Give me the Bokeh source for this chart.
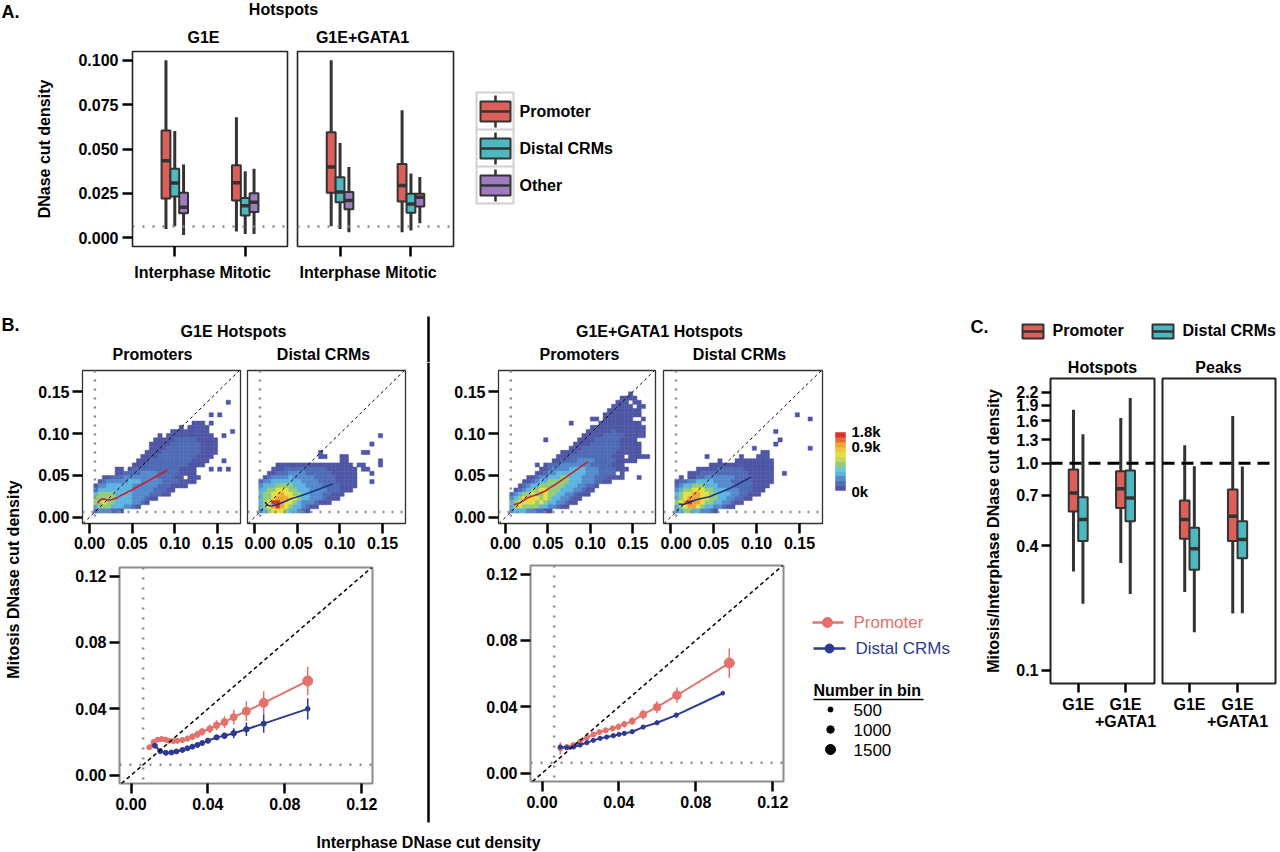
import math
from bokeh.plotting import figure
from bokeh.models import Range1d, FixedTicker, Span, Slope, Spacer, ColumnDataSource, PrintfTickFormatter
from bokeh.layouts import row, column
from bokeh.core.properties import value
from bokeh.embed import file_html
from bokeh.resources import INLINE

FONT = "Liberation Sans"
PAGE_H = 852
DARK = "#333333"
RED_FILL = "#DD5F59"
TEAL_FILL = "#4DB8BE"
PURPLE_FILL = "#9F7BBF"
PT_RED = "#E4716B"
PT_BLUE = "#2E3A92"
LINE_RED = "#C8202A"
LINE_BLUE = "#1D3585"
GRAY_DOT = "#8a8a8a"
HEAT_PAL = ["#4E56A5", "#4E6BB6", "#5489CD", "#5CB5E0", "#93CC78", "#E6E03E", "#F2A332", "#D7322A"]
CB_COLORS = ["#4E56A5", "#4E6BB6", "#5489CD", "#5CB5E0", "#6EC8C8", "#93CC78", "#C6D854", "#E6E03E", "#F2C238", "#F2A332", "#E66A2E", "#D7322A"]

# ---------------- Panel A data ----------------
A_CATS = ["Interphase", "Mitotic"]
A_GROUPS = ["Promoter", "Distal CRMs", "Other"]
A_G1E_PROM = dict(lo=[0.0049, 0.0034], q1=[0.0221, 0.0209], med=[0.0434, 0.0309], q3=[0.0604, 0.0409], hi=[0.1000, 0.0679])
A_G1E_DIST = dict(lo=[0.0064, 0.0021], q1=[0.0232, 0.0125], med=[0.0308, 0.0180], q3=[0.0389, 0.0223], hi=[0.0602, 0.0374])
A_G1E_OTHER = dict(lo=[0.0015, 0.0021], q1=[0.0138, 0.0145], med=[0.0172, 0.0200], q3=[0.0253, 0.0251], hi=[0.0413, 0.0389])
A_GATA_PROM = dict(lo=[0.0064, 0.0030], q1=[0.0253, 0.0204], med=[0.0398, 0.0294], q3=[0.0594, 0.0415], hi=[0.1000, 0.0719])
A_GATA_DIST = dict(lo=[0.0049, 0.0040], q1=[0.0200, 0.0140], med=[0.0257, 0.0190], q3=[0.0340, 0.0247], hi=[0.0534, 0.0362])
A_GATA_OTHER = dict(lo=[0.0030, 0.0081], q1=[0.0160, 0.0175], med=[0.0209, 0.0228], q3=[0.0258, 0.0247], hi=[0.0398, 0.0342])
A_Y_TICKS = [0.0, 0.025, 0.05, 0.075, 0.1]
THRESH = 0.0063

# ---------------- Panel B heatmaps (rows: y-bin index, first x-bin index, levels) ----------------
BIN = 0.005
HM_G1E_PROM = [
    (27, 32, "1"),
    (24, 28, "1.1"),
    (22, 24, "111.1"),
    (21, 21, "1.11111"),
    (20, 19, "111111111.....1"),
    (19, 16, "1.11111111111..1"),
    (18, 15, "111112222211111"),
    (17, 14, "1111122222221111"),
    (16, 14, "1111222222221111"),
    (15, 13, "11112222222221111"),
    (14, 12, "11112222222221111"),
    (13, 11, "11122222222221111...1"),
    (12, 10, "11122222222221111"),
    (11, 6, "11.1222222222221111...1.1.1"),
    (10, 6, "1122223333222221111"),
    (9, 3, "1122233333333222211.111"),
    (8, 2, "12333334443333322221111"),
    (7, 1, "1334444443333332221111"),
    (6, 1, "2444444443333322211"),
    (5, 1, "455554444333322211"),
    (4, 1, "555554444333211"),
    (3, 1, "5565544443321"),
    (2, 1, "45554443321"),
    (1, 1, "2333221"),
]
HM_G1E_DIST = [
    (19, 29, "1"),
    (17, 27, "1"),
    (15, 15, "1.........11"),
    (14, 15, "11...11"),
    (13, 20, "11.......1"),
    (12, 5, "111111111111111111.11...1"),
    (11, 4, "11122222222221111111.11"),
    (10, 3, "112223333222222111111...1"),
    (9, 2, "1233334333332222211111"),
    (8, 1, "23344444443333222211111...1"),
    (7, 1, "34445555444333322221111"),
    (6, 1, "4455666554443333222111"),
    (5, 1, "45566766554433322111"),
    (4, 1, "4556777665443332111"),
    (3, 1, "45688766543332111"),
    (2, 1, "45678765443211"),
    (1, 1, "345666544321"),
]
HM_GATA_PROM = [
    (29, 29, "1"),
    (28, 27, "1111"),
    (27, 26, "111.11"),
    (26, 25, "11111.11"),
    (25, 24, "11111111"),
    (24, 23, "111111111"),
    (23, 20, "11.1111111..1"),
    (22, 15, "1......1111111111"),
    (21, 20, "1111111111111"),
    (20, 19, "11111121111111"),
    (19, 18, "111112222211111"),
    (18, 9, "1.......11112222221111"),
    (17, 16, "1111222222211111"),
    (16, 15, "11122222222211111"),
    (15, 13, "1111222222222111111"),
    (14, 12, "1112222222222111.11111"),
    (13, 11, "11222233332222211111"),
    (12, 7, "1.1222333333322222111"),
    (11, 8, "112333344443332222111"),
    (10, 7, "1123344444443332222.1"),
    (9, 5, "11233444554443332221111...1"),
    (8, 4, "112344555554443332211"),
    (7, 3, "1234455555544433221"),
    (6, 2, "1234556655544433211"),
    (5, 1, "2345565565544332111"),
    (4, 1, "34566665654433211"),
    (3, 1, "4566665654433211"),
    (2, 1, "45655554433211"),
    (1, 1, "3444332211"),
]
HM_GATA_DIST = [
    (24, 29, "1"),
    (23, 32, "1"),
    (20, 24, "1"),
    (18, 25, "1"),
    (17, 24, "1"),
    (16, 19, "1............1"),
    (15, 21, "11"),
    (14, 8, "1.......1...111"),
    (13, 11, "1...111111111"),
    (12, 9, "111111111111111"),
    (11, 6, "111112222221111111"),
    (10, 4, "11122222222222111111..1"),
    (9, 2, "1.11223333333222211111"),
    (8, 1, "12233444433332222211111"),
    (7, 1, "2344555444333322221111"),
    (6, 1, "345566655444333222111"),
    (5, 1, "45667766554443322111"),
    (4, 1, "456777665544332211"),
    (3, 1, "5678776554433211"),
    (2, 1, "45677654433211"),
    (1, 1, "3455443321"),
]
HM_TICKS = [0.0, 0.05, 0.10, 0.15]

# ---------------- Panel B binned means ----------------
G1E_PROM_X = [0.0095, 0.0117, 0.0138, 0.0159, 0.0180, 0.0198, 0.0219, 0.0240, 0.0267, 0.0293, 0.0319, 0.0345, 0.0370, 0.0410, 0.0445, 0.0486, 0.0534, 0.0600, 0.0690, 0.0919]
G1E_PROM_Y = [0.0168, 0.0200, 0.0214, 0.0218, 0.0214, 0.0208, 0.0206, 0.0208, 0.0212, 0.0220, 0.0232, 0.0246, 0.0262, 0.0280, 0.0301, 0.0320, 0.0350, 0.0386, 0.0436, 0.0568]
G1E_PROM_E = [0.0012, 0.0015, 0.0016, 0.0016, 0.0016, 0.0016, 0.0016, 0.0017, 0.0018, 0.0019, 0.0020, 0.0022, 0.0024, 0.0026, 0.0030, 0.0036, 0.0045, 0.0060, 0.0070, 0.0086]
G1E_PROM_N = [500, 500, 500, 500, 500, 500, 500, 500, 500, 500, 600, 600, 700, 700, 800, 900, 900, 1100, 1300, 1500]
G1E_DIST_X = [0.0124, 0.0152, 0.0181, 0.0210, 0.0236, 0.0267, 0.0293, 0.0319, 0.0345, 0.0370, 0.0400, 0.0445, 0.0486, 0.0534, 0.0600, 0.0690, 0.0919]
G1E_DIST_Y = [0.0178, 0.0145, 0.0135, 0.0137, 0.0143, 0.0152, 0.0162, 0.0172, 0.0182, 0.0194, 0.0208, 0.0228, 0.0238, 0.0253, 0.0277, 0.0311, 0.0400]
G1E_DIST_E = [0.0008, 0.0008, 0.0008, 0.0008, 0.0009, 0.0009, 0.0010, 0.0010, 0.0011, 0.0012, 0.0013, 0.0015, 0.0018, 0.0030, 0.0040, 0.0055, 0.0064]
G1E_DIST_N = [500, 500, 500, 500, 500, 500, 500, 500, 500, 500, 550, 550, 600, 600, 600, 550, 450]
GATA_PROM_X = [0.0095, 0.0129, 0.0164, 0.0198, 0.0233, 0.0267, 0.0298, 0.0331, 0.0367, 0.0397, 0.0428, 0.0469, 0.0526, 0.0598, 0.0702, 0.0974]
GATA_PROM_Y = [0.0150, 0.0158, 0.0170, 0.0190, 0.0214, 0.0234, 0.0248, 0.0258, 0.0270, 0.0280, 0.0296, 0.0314, 0.0354, 0.0398, 0.0470, 0.0664]
GATA_PROM_E = [0.0035, 0.0012, 0.0012, 0.0013, 0.0014, 0.0015, 0.0016, 0.0017, 0.0018, 0.0019, 0.0020, 0.0024, 0.0030, 0.0036, 0.0046, 0.0088]
GATA_PROM_N = [500, 500, 500, 500, 500, 500, 500, 500, 500, 500, 550, 700, 900, 1000, 1200, 1500]
GATA_DIST_X = [0.0095, 0.0129, 0.0164, 0.0198, 0.0233, 0.0267, 0.0302, 0.0336, 0.0371, 0.0400, 0.0428, 0.0469, 0.0526, 0.0598, 0.0698, 0.0940]
GATA_DIST_Y = [0.0158, 0.0154, 0.0158, 0.0170, 0.0184, 0.0198, 0.0210, 0.0218, 0.0226, 0.0234, 0.0240, 0.0250, 0.0278, 0.0304, 0.0350, 0.0482]
GATA_DIST_E = [0.0010, 0.0008, 0.0008, 0.0008, 0.0008, 0.0008, 0.0009, 0.0009, 0.0010, 0.0010, 0.0010, 0.0011, 0.0012, 0.0013, 0.0015, 0.0010]
GATA_DIST_N = [350, 350, 350, 350, 350, 350, 350, 350, 350, 350, 350, 350, 350, 350, 350, 250]
B_TICKS = [0.0, 0.04, 0.08, 0.12]
BIN_LEGEND_N = [500, 1000, 1500]

# ---------------- Panel C data ----------------
C_CATS = ["G1E", "G1E\n+GATA1"]
C_HOT_PROM = dict(lo=[0.300, 0.330], q1=[0.585, 0.607], med=[0.717, 0.752], q3=[0.932, 0.915], hi=[1.81, 1.65])
C_HOT_DIST = dict(lo=[0.210, 0.234], q1=[0.421, 0.525], med=[0.535, 0.678], q3=[0.685, 0.922], hi=[1.38, 2.06])
C_PEAK_PROM = dict(lo=[0.239, 0.188], q1=[0.432, 0.421], med=[0.535, 0.555], q3=[0.660, 0.746], hi=[1.22, 1.69])
C_PEAK_DIST = dict(lo=[0.153, 0.189], q1=[0.306, 0.348], med=[0.386, 0.428], q3=[0.488, 0.525], hi=[0.967, 0.964])
C_Y_TICKS = [0.1, 0.4, 0.7, 1.0, 1.3, 1.6, 1.9, 2.2]


def Y(y):
    return PAGE_H - y


def canvas(x0, x1, y0, y1, bt=0, bb=0):
    # Bokeh aligns frame borders of plots sharing a row; the canvas frame is the
    # region between bt and bb, and its ranges are the page pixels of that frame.
    p = figure(width=x1 - x0, height=y1 - y0, x_range=Range1d(x0, x1),
               y_range=Range1d(PAGE_H - (y1 - bb), PAGE_H - (y0 + bt)),
               toolbar_location=None, output_backend="svg", min_border_left=0, min_border_right=0,
               min_border_top=bt, min_border_bottom=bb, x_axis_type=None, y_axis_type=None, title=None)
    p.outline_line_color = None
    p.background_fill_color = "white"
    p.border_fill_color = "white"
    return p


def txt(p, x, y, s, size=16, style="bold", align="left", color="black", angle=0.0):
    p.text(x=[x], y=[Y(y)], text=[s], text_font=value(FONT), text_font_size=f"{size}px", text_font_style=style,
           text_align=align, text_baseline="middle", text_color=color, angle=angle)


def base_fig(w, h, xr, yr, bl, br, bt, bb, y_log=False):
    kw = dict(width=w, height=h, x_range=Range1d(*xr), y_range=Range1d(*yr), toolbar_location=None,
              output_backend="svg", min_border_left=bl, min_border_right=br, min_border_top=bt,
              min_border_bottom=bb, title=None)
    if y_log:
        kw["y_axis_type"] = "log"
    p = figure(**kw)
    p.xgrid.visible = False
    p.ygrid.visible = False
    p.background_fill_color = "white"
    p.border_fill_color = "white"
    return p


def style_axes(p, xticks, yticks, xfmt=None, yfmt=None, xover=None, show_x=True, show_y=True,
               outline="#222222", ow=1.6, tick_out=10, x_stand=4, y_stand=4):
    p.xaxis.ticker = FixedTicker(ticks=xticks, minor_ticks=[])
    p.yaxis.ticker = FixedTicker(ticks=yticks, minor_ticks=[])
    if xfmt:
        p.xaxis.formatter = PrintfTickFormatter(format=xfmt)
    if yfmt:
        p.yaxis.formatter = PrintfTickFormatter(format=yfmt)
    if xover:
        p.xaxis.major_label_overrides = xover
    for ax in p.axis:
        ax.axis_line_color = None
        ax.major_tick_line_color = "black"
        ax.major_tick_line_width = 2.5
        ax.major_tick_out = tick_out
        ax.major_tick_in = 0
        ax.minor_tick_line_color = None
        ax.major_label_text_font = FONT
        ax.major_label_text_font_size = "16px"
        ax.major_label_text_font_style = "bold"
        ax.major_label_text_color = "black"
        ax.axis_label_text_font = FONT
        ax.axis_label_text_font_size = "16px"
        ax.axis_label_text_font_style = "bold"
        ax.axis_label_text_color = "black"
    p.xaxis.major_label_standoff = x_stand
    p.yaxis.major_label_standoff = y_stand
    p.xaxis.visible = show_x
    p.yaxis.visible = show_y
    p.outline_line_color = outline
    p.outline_line_width = ow


def draw_boxes(p, cats, offset, width, stats, color, wl=3, bl=2, ml=3.5):
    xs = [c + offset for c in cats]
    src = ColumnDataSource(dict(x=xs, l=[x - width / 2 for x in xs], r=[x + width / 2 for x in xs], **stats))
    p.segment(x0="x", y0="lo", x1="x", y1="hi", source=src, line_color=DARK, line_width=wl)
    p.quad(left="l", right="r", bottom="q1", top="q3", source=src, fill_color=color, line_color=DARK, line_width=bl)
    p.segment(x0="l", y0="med", x1="r", y1="med", source=src, line_color=DARK, line_width=ml)


# ================= Panel A =================
A_XR = (0.4, 2.6)
A_YR = (-0.005, 0.105)
A_POS = [1, 2]
ha = canvas(0, 1280, 0, 45)
txt(ha, 1, 11, "A.", size=18)
txt(ha, 283, 9, "Hotspots", align="center")
txt(ha, 203, 37, "G1E", align="center")
txt(ha, 362, 37, "G1E+GATA1", align="center")


def a_panel(w, bl, br, stats3, show_y):
    p = base_fig(w, 255, A_XR, A_YR, bl, br, 6, 54)
    p.add_layout(Span(location=THRESH, dimension="width", line_color=GRAY_DOT, line_dash="2 8", line_width=2.5))
    for off, st, col in zip([-0.125, 0.0, 0.125], stats3, [RED_FILL, TEAL_FILL, PURPLE_FILL]):
        draw_boxes(p, A_POS, off, 0.125, st, col)
    style_axes(p, A_POS, A_Y_TICKS, yfmt="%.3f", xover={1: A_CATS[0], 2: A_CATS[1]}, show_y=show_y,
               x_stand=7, y_stand=4)
    p.yaxis.axis_label = "DNase cut density"
    p.yaxis.axis_label_standoff = 22
    return p


A1 = a_panel(292, 132, 5, [A_G1E_PROM, A_G1E_DIST, A_G1E_OTHER], True)
A2 = a_panel(168, 5, 7, [A_GATA_PROM, A_GATA_DIST, A_GATA_OTHER], False)

aleg = canvas(460, 640, 45, 300, bt=6, bb=54)
aleg.quad(left=[476], right=[513], top=[Y(92)], bottom=[Y(203)], fill_color="white", line_color="#d0d0d0", line_width=2)
aleg.segment(x0=[476, 476], y0=[Y(129), Y(166)], x1=[513, 513], y1=[Y(129), Y(166)], line_color="#d0d0d0", line_width=2)
for name, col, yc in zip(A_GROUPS, [RED_FILL, TEAL_FILL, PURPLE_FILL], [111, 148, 185]):
    aleg.segment(x0=[495], y0=[Y(yc - 16)], x1=[495], y1=[Y(yc + 16)], line_color=DARK, line_width=2.5)
    aleg.quad(left=[480], right=[510], top=[Y(yc - 10)], bottom=[Y(yc + 10)], fill_color=col, line_color=DARK, line_width=2)
    aleg.segment(x0=[480], y0=[Y(yc)], x1=[510], y1=[Y(yc)], line_color=DARK, line_width=2.5)
    txt(aleg, 519, yc, name)

top_block = column(ha, row(A1, A2, aleg, Spacer(width=640, height=255)))

# ================= Panel B =================
HM_XR = (-0.0082, 0.1768)
HM_YR = (-0.0075, 0.1755)


def heat_source(rows):
    xs, ys, cs = [], [], []
    for j, start, levels in rows:
        for k, ch in enumerate(levels):
            if ch != ".":
                xs.append((start + k + 0.5) * BIN)
                ys.append((j + 0.5) * BIN)
                cs.append(HEAT_PAL[int(ch) - 1])
    return ColumnDataSource(dict(x=xs, y=ys, c=cs))


def heat_fig(w, bl, br, rows, lx, ly, lcol, show_y):
    p = base_fig(w, 198, HM_XR, HM_YR, bl, br, 8, 37)
    p.rect(x="x", y="y", width=BIN, height=BIN, source=heat_source(rows), fill_color="c", line_color="c", line_width=0.5)
    p.add_layout(Span(location=THRESH, dimension="width", line_color=GRAY_DOT, line_dash="2 7", line_width=2.5))
    p.add_layout(Span(location=THRESH, dimension="height", line_color=GRAY_DOT, line_dash="2 7", line_width=2.5))
    p.add_layout(Slope(gradient=1, y_intercept=0, line_color="black", line_dash="3 3", line_width=1))
    p.line(lx, ly, line_color=lcol, line_width=1.6)
    style_axes(p, HM_TICKS, HM_TICKS, xfmt="%.2f", yfmt="%.2f", show_y=show_y, outline="#333333", ow=1.3,
               x_stand=3, y_stand=3)
    return p


HM1 = heat_fig(219, 57, 4, HM_G1E_PROM, G1E_PROM_X, G1E_PROM_Y, LINE_RED, True)
HM2 = heat_fig(182, 3, 21, HM_G1E_DIST, G1E_DIST_X, G1E_DIST_Y, LINE_BLUE, False)
HM3 = heat_fig(230, 68, 5, HM_GATA_PROM, GATA_PROM_X, GATA_PROM_Y, LINE_RED, True)
HM4 = heat_fig(166, 3, 4, HM_GATA_DIST, GATA_DIST_X, GATA_DIST_Y, LINE_BLUE, False)

cb = canvas(826, 960, 362, 560, bt=8, bb=37)
nb = len(CB_COLORS)
cb_h = 58.0 / nb
cb.quad(left=[835] * nb, right=[845] * nb,
        bottom=[Y(490 - i * cb_h) for i in range(nb)], top=[Y(490 - (i + 1) * cb_h) for i in range(nb)],
        fill_color=CB_COLORS, line_color=CB_COLORS, line_width=0.5)
txt(cb, 851, 431, "1.8k", size=15)
txt(cb, 851, 446, "0.9k", size=15)
txt(cb, 851, 491, "0k", size=15)

B_XR = (-0.006, 0.1256)
B_YR = (-0.005, 0.1252)


def mean_fig(w, bl, br, bt, bb, series):
    p = base_fig(w, 270, B_XR, B_YR, bl, br, bt, bb)
    p.add_layout(Span(location=THRESH, dimension="width", line_color=GRAY_DOT, line_dash="2 8", line_width=2.5))
    p.add_layout(Span(location=THRESH, dimension="height", line_color=GRAY_DOT, line_dash="2 8", line_width=2.5))
    p.add_layout(Slope(gradient=1, y_intercept=0, line_color="black", line_dash="4 3", line_width=1.5))
    for xs, ys, es, ns, col in series:
        src = ColumnDataSource(dict(x=xs, y=ys, lo=[a - b for a, b in zip(ys, es)], hi=[a + b for a, b in zip(ys, es)],
                                    s=[2.5 + n / 200 for n in ns]))
        p.line("x", "y", source=src, line_color=col, line_width=2)
        p.segment(x0="x", y0="lo", x1="x", y1="hi", source=src, line_color=col, line_width=1.5)
        p.scatter("x", "y", source=src, size="s", fill_color=col, line_color=col)
    style_axes(p, B_TICKS, B_TICKS, xfmt="%.2f", yfmt="%.2f", outline="#8c8c8c", ow=2, x_stand=4, y_stand=3)
    return p


BL = mean_fig(401, 94, 54, 7, 47, [(G1E_PROM_X, G1E_PROM_Y, G1E_PROM_E, G1E_PROM_N, PT_RED),
                                   (G1E_DIST_X, G1E_DIST_Y, G1E_DIST_E, G1E_DIST_N, PT_BLUE)])
BR = mean_fig(370, 100, 17, 5, 49, [(GATA_PROM_X, GATA_PROM_Y, GATA_PROM_E, GATA_PROM_N, PT_RED),
                                    (GATA_DIST_X, GATA_DIST_Y, GATA_DIST_E, GATA_DIST_N, PT_BLUE)])

bleg = canvas(800, 960, 560, 830, bt=5, bb=49)
bleg.line([812, 843], [Y(622), Y(622)], line_color=PT_RED, line_width=2.5)
bleg.scatter([827], [Y(622)], size=10, fill_color=PT_RED, line_color=PT_RED)
txt(bleg, 853, 622, "Promoter", color=PT_RED, style="normal", size=17)
bleg.line([813, 845], [Y(648), Y(648)], line_color=PT_BLUE, line_width=2.5)
bleg.scatter([829], [Y(648)], size=9, fill_color=PT_BLUE, line_color=PT_BLUE)
txt(bleg, 855, 648, "Distal CRMs", color=PT_BLUE, style="normal", size=17)
txt(bleg, 813, 690, "Number in bin")
bleg.line([813, 923], [Y(699), Y(699)], line_color="black", line_width=1.5)
for n, yc in zip(BIN_LEGEND_N, [709, 729, 749]):
    bleg.scatter([830], [Y(yc)], size=2.5 + n / 200, fill_color="black", line_color="black")
    txt(bleg, 853, yc, str(n), style="normal", size=17)

hb = canvas(0, 960, 300, 362)
txt(hb, 1, 324, "B.", size=18)
txt(hb, 233, 331, "G1E Hotspots", align="center")
txt(hb, 152, 354, "Promoters", align="center")
txt(hb, 323, 354, "Distal CRMs", align="center")
txt(hb, 659, 331, "G1E+GATA1 Hotspots", align="center")
txt(hb, 579, 354, "Promoters", align="center")
txt(hb, 739, 354, "Distal CRMs", align="center")
hb.line([428, 428], [Y(316), Y(362)], line_color="black", line_width=2.5)

sep = canvas(426, 430, 362, 830)
sep.line([428, 428], [Y(362), Y(822)], line_color="black", line_width=2.5)

lstrip = canvas(0, 25, 362, 830)
txt(lstrip, 13, 579, "Mitosis DNase cut density", align="center", angle=math.pi / 2)

xtitle = canvas(0, 960, 830, 852)
txt(xtitle, 428, 842, "Interphase DNase cut density", align="center")

b_block = column(hb,
                 row(lstrip, column(row(HM1, HM2), BL), sep, column(row(HM3, HM4, cb), row(BR, bleg))),
                 xtitle)

# ================= Panel C =================
C_YR = (0.0865, 2.56)
C_POS = [1, 2]
hc = canvas(960, 1280, 300, 375)
txt(hc, 970, 326, "C.", size=18)
for name, col, x0 in zip(["Promoter", "Distal CRMs"], [RED_FILL, TEAL_FILL], [1022, 1152]):
    hc.quad(left=[x0], right=[x0 + 21], top=[Y(324)], bottom=[Y(338)], fill_color=col, line_color=DARK, line_width=2)
    hc.segment(x0=[x0], y0=[Y(331)], x1=[x0 + 21], y1=[Y(331)], line_color=DARK, line_width=2.5)
    txt(hc, x0 + 30, 330, name)
txt(hc, 1102, 367, "Hotspots", align="center")
txt(hc, 1218, 367, "Peaks", align="center")


def c_panel(w, xr, bl, br, prom, dist, show_y):
    p = base_fig(w, 360, xr, C_YR, bl, br, 3, 52, y_log=True)
    p.add_layout(Span(location=1.0, dimension="width", line_color="black", line_dash="12 7", line_width=3))
    draw_boxes(p, C_POS, -0.1, 0.2, prom, RED_FILL)
    draw_boxes(p, C_POS, 0.1, 0.2, dist, TEAL_FILL)
    style_axes(p, C_POS, C_Y_TICKS, yfmt="%.1f", xover={1: C_CATS[0], 2: C_CATS[1]}, show_y=show_y,
               outline="#222222", ow=2, tick_out=9, x_stand=3, y_stand=3)
    p.xaxis.major_label_text_line_height = 1.0
    p.yaxis.axis_label = "Mitosis/Interphase DNase cut density"
    p.yaxis.axis_label_standoff = 11
    return p


C1 = c_panel(198, (0.414, 2.613), 90, 4, C_HOT_PROM, C_HOT_DIST, True)
C2 = c_panel(122, (0.4375, 2.79), 4, 5, C_PEAK_PROM, C_PEAK_DIST, False)

c_block = column(hc, row(C1, C2), Spacer(width=320, height=117))

layout = column(top_block, row(b_block, c_block))
open("out.html", "w").write(file_html(layout, INLINE))
